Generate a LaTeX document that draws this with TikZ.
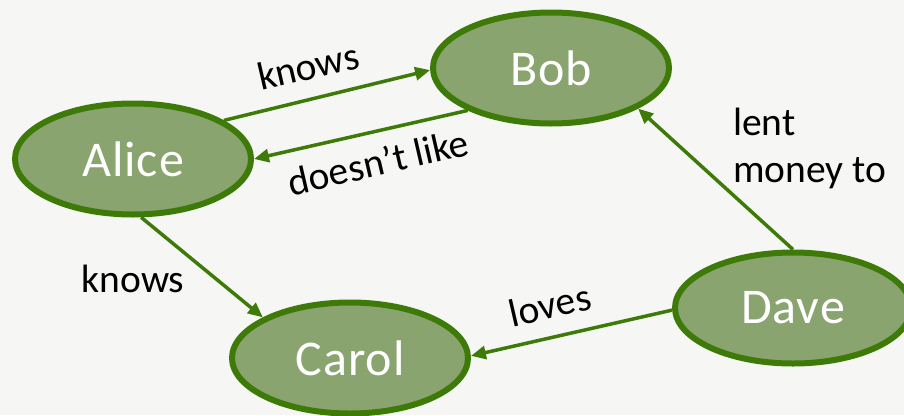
\documentclass[tikz,border=0pt]{standalone}
\usepackage{fontspec}
\setmainfont{Carlito}
\usetikzlibrary{arrows.meta,shapes.geometric,shadows}
\definecolor{bg}{RGB}{246,246,245}
\definecolor{nodefill}{RGB}{137,164,111}
\definecolor{edgegreen}{RGB}{62,122,8}
\begin{document}
\begin{tikzpicture}[x=1pt,y=-1pt,
  entity/.style={ellipse, draw=edgegreen, line width=6pt, fill=nodefill, text=white,
    minimum width=236pt, minimum height=111pt, inner sep=0pt,
    font=\fontsize{50}{60}\selectfont\addfontfeatures{LetterSpace=2},
    drop shadow={opacity=0.18, shadow xshift=-2pt, shadow yshift=-2pt}},
  rel/.style={draw=edgegreen, line width=3.5pt, -{Triangle[length=15pt,width=13pt]}},
  lab/.style={font=\fontsize{39.5}{47}\selectfont, text=black, inner sep=0pt}]
\fill[bg] (0,0) rectangle (904,415);
\useasboundingbox (0,0) rectangle (904,415);
\node[entity] (bob) at (551,68) {Bob};
\node[entity] (alice) at (133,159) {Alice};
\node[entity] (carol) at (350,358) {Carol};
\node[entity] (dave) at (793,308) {Dave};
\draw[rel] (alice.23) -- (bob.181);
\draw[rel] (bob.-153) -- (alice.0);
\draw[rel] (alice.-82) -- (carol.155);
\draw[rel] (dave.90) -- (bob.-25);
\draw[rel] (dave.181) -- (carol.1);
\node[lab, rotate=13] (l1) at (308,66) {knows};
\node[lab, rotate=13] (l2) at (378,162) {doesn’t like};
\node[lab] (l3) at (133,279) {knows};
\node[lab, rotate=13] (l4) at (550,305) {loves};
\node[lab, align=left, anchor=north west] (l5) at (733,108) {lent\\money to};
\end{tikzpicture}
\end{document}
